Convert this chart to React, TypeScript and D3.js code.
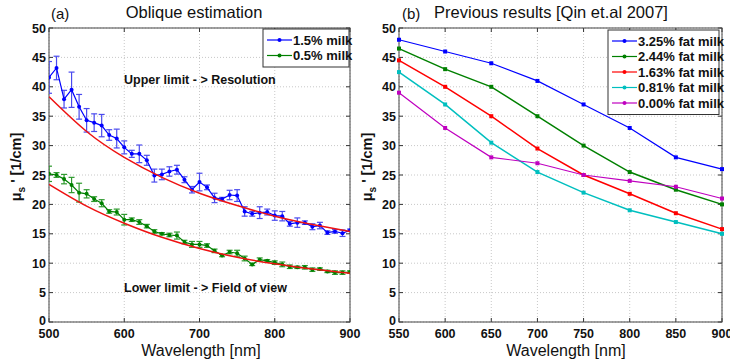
import React from "react";
import * as d3 from "d3";

// ---- Panel (a): oblique estimation, one point per 10 nm ----
const wlA: number[] = d3.range(500, 901, 10);
const milk15: number[] = [
  41.6, 43.2, 37.9, 39.5, 36.6, 34.3, 33.9, 33.4, 31.8, 31.2,
  29.7, 28.6, 28.6, 27.5, 24.9, 25.1, 25.6, 25.9, 24.2, 22.5,
  23.8, 22.9, 21.1, 20.9, 21.6, 21.5, 18.8, 18.4, 18.6, 18.7,
  18.1, 18.0, 16.7, 16.9, 16.9, 16.2, 16.4, 15.2, 15.4, 15.1, 15.6,
];
const milk15Err: number[] = [
  2.7, 2.0, 1.5, 3.0, 2.1, 2.0, 1.5, 1.9, 0.9, 1.6,
  1.1, 0.6, 1.5, 0.85, 1.1, 0.9, 0.8, 0.75, 0.5, 0.55,
  1.5, 0.4, 0.8, 0.3, 0.8, 1.0, 0.8, 0.4, 1.0, 0.5,
  0.8, 0.8, 0.4, 0.8, 0.3, 0.5, 0.55, 0.3, 0.3, 0.55, 0.2,
];
const milk05: number[] = [
  25.2, 25.0, 24.3, 23.3, 22.0, 21.8, 20.9, 20.2, 18.8, 18.7,
  17.4, 17.4, 17.0, 16.3, 15.4, 15.0, 14.8, 14.7, 13.6, 13.2,
  13.2, 13.0, 12.1, 11.3, 11.9, 11.7, 10.8, 9.8, 10.6, 10.4,
  10.1, 9.8, 9.4, 9.3, 9.3, 8.9, 9.0, 8.6, 8.4, 8.4, 8.5,
];
const milk05Err: number[] = [
  1.3, 0.4, 0.8, 1.3, 1.6, 0.7, 0.4, 0.6, 0.3, 0.5,
  0.9, 0.3, 0.4, 0.3, 0.3, 0.2, 0.3, 0.6, 0.3, 0.5,
  0.5, 0.3, 0.3, 0.2, 0.3, 0.5, 0.4, 0.2, 0.3, 0.2,
  0.3, 0.4, 0.3, 0.2, 0.3, 0.3, 0.2, 0.2, 0.3, 0.3, 0.2,
];
// Fitted limit curves, sampled every 50 nm
const wlFit: number[] = [500, 550, 600, 650, 700, 750, 800, 850, 900];
const fitUpper: number[] = [38.3, 32.4, 28.0, 24.6, 21.9, 19.8, 18.0, 16.6, 15.4];
const fitLower: number[] = [23.4, 19.7, 16.8, 14.4, 12.5, 11.0, 9.9, 9.0, 8.3];

// ---- Panel (b): previous results ----
const wlB: number[] = [550, 600, 650, 700, 750, 800, 850, 900];
const fat325: number[] = [48, 46, 44, 41, 37, 33, 28, 26];
const fat244: number[] = [46.5, 43, 40, 35, 30, 25.5, 22.5, 20];
const fat163: number[] = [44.5, 40, 35, 29.5, 25, 21.8, 18.5, 15.8];
const fat081: number[] = [42.5, 37, 30.5, 25.5, 22, 19, 17, 15];
const fat000: number[] = [39, 33, 28, 27, 25, 24, 23, 21];

const ticksY: number[] = d3.range(0, 51, 5);
const ticksXA: number[] = [500, 600, 700, 800, 900];
const ticksXB: number[] = [550, 600, 650, 700, 750, 800, 850, 900];

const FONT = "'Liberation Sans', Arial, Helvetica, sans-serif";

const top = 28;
const bottom = 322;

type Series = { name: string; color: string; values: number[]; width: number };

function Frame({
  x,
  y,
  xticks,
}: {
  x: d3.ScaleLinear<number, number>;
  y: d3.ScaleLinear<number, number>;
  xticks: number[];
}) {
  const [x0, x1] = x.range();
  return (
    <g>
      {xticks.map((t) => (
        <line key={"gx" + t} x1={x(t)} x2={x(t)} y1={top} y2={bottom} stroke="#c8c8c8" strokeWidth={1} strokeDasharray="1,2" />
      ))}
      {ticksY.map((t) => (
        <line key={"gy" + t} x1={x0} x2={x1} y1={y(t)} y2={y(t)} stroke="#c8c8c8" strokeWidth={1} strokeDasharray="1,2" />
      ))}
      {xticks.map((t) => (
        <g key={"tx" + t}>
          <line x1={x(t)} x2={x(t)} y1={bottom} y2={bottom - 4} stroke="#333" />
          <line x1={x(t)} x2={x(t)} y1={top} y2={top + 4} stroke="#333" />
          <text x={x(t)} y={337.5} textAnchor="middle" fontFamily={FONT} fontWeight="bold" fontSize={12.5} fill="#111">
            {t}
          </text>
        </g>
      ))}
      {ticksY.map((t) => (
        <g key={"ty" + t}>
          <line x1={x0} x2={x0 + 4} y1={y(t)} y2={y(t)} stroke="#333" />
          <line x1={x1} x2={x1 - 4} y1={y(t)} y2={y(t)} stroke="#333" />
          <text x={x0 - 3} y={y(t) + (t === 0 ? 3 : 4.5)} textAnchor="end" fontFamily={FONT} fontWeight="bold" fontSize={12.5} fill="#111">
            {t}
          </text>
        </g>
      ))}
      <rect x={x0} y={top} width={x1 - x0} height={bottom - top} fill="none" stroke="#444" strokeWidth={1} />
    </g>
  );
}

function YLabel({ cx, cy }: { cx: number; cy: number }) {
  return (
    <text
      transform={`translate(${cx},${cy}) rotate(-90)`}
      textAnchor="middle"
      fontFamily={FONT}
      fontWeight="bold"
      fontSize={14.5}
      fill="#111"
    >
      <tspan>μ</tspan>
      <tspan fontSize={10} dy={4}>s</tspan>
      <tspan dy={-4}> ' [1/cm]</tspan>
    </text>
  );
}

function Legend({
  x,
  y,
  w,
  items,
}: {
  x: number;
  y: number;
  w: number;
  items: { name: string; color: string }[];
}) {
  const rowH = 15.5;
  const h = items.length * rowH + 7;
  return (
    <g>
      <rect x={x} y={y} width={w} height={h} fill="#fff" stroke="#333" strokeWidth={1} />
      {items.map((it, i) => {
        const cy = y + 11 + i * rowH;
        return (
          <g key={it.name}>
            <line x1={x + 4} x2={x + 29} y1={cy} y2={cy} stroke={it.color} strokeWidth={1.2} />
            <circle cx={x + 16.5} cy={cy} r={2} fill={it.color} />
            <text x={x + 30} y={cy + 4.5} fontFamily={FONT} fontWeight="bold" fontSize={13} fill="#111">
              {it.name}
            </text>
          </g>
        );
      })}
    </g>
  );
}

function PanelA() {
  const x = d3.scaleLinear().domain([500, 900]).range([49, 350]);
  const y = d3.scaleLinear().domain([0, 50]).range([bottom, top]);
  const line = d3
    .line<number>()
    .x((_, i) => x(wlA[i]))
    .y((d) => y(d));
  const fit = d3
    .line<number>()
    .x((_, i) => x(wlFit[i]))
    .y((d) => y(d))
    .curve(d3.curveNatural);

  const series = [
    { name: "1.5% milk", color: "#0000ff", bar: "#4a4aee", values: milk15, err: milk15Err },
    { name: "0.5% milk", color: "#008000", bar: "#2e9a2e", values: milk05, err: milk05Err },
  ];

  return (
    <g>
      <Frame x={x} y={y} xticks={ticksXA} />
      <text x={51} y={19} fontFamily={FONT} fontSize={15} fill="#111">(a)</text>
      <text x={194} y={18} textAnchor="middle" fontFamily={FONT} fontSize={16.5} fill="#111">
        Oblique estimation
      </text>
      <text x={201} y={356} textAnchor="middle" fontFamily={FONT} fontSize={16} fill="#111">
        Wavelength [nm]
      </text>
      <YLabel cx={21} cy={167} />
      <text x={124} y={84} fontFamily={FONT} fontWeight="bold" fontSize={12.5} fill="#111">
        Upper limit - &gt; Resolution
      </text>
      <text x={124} y={292} fontFamily={FONT} fontWeight="bold" fontSize={12.5} fill="#111">
        Lower limit - &gt; Field of view
      </text>
      <defs>
        <clipPath id="clipA">
          <rect x={49} y={top} width={301} height={bottom - top} />
        </clipPath>
      </defs>
      <g clipPath="url(#clipA)">
        {series.map((s) => (
          <g key={s.name}>
            {s.values.map((v, i) => {
              const cx = x(wlA[i]);
              const e = s.err[i];
              return (
                <g key={i} stroke={s.bar} strokeWidth={1.2}>
                  <line x1={cx} x2={cx} y1={y(v - e)} y2={y(v + e)} />
                  <line x1={cx - 3} x2={cx + 3} y1={y(v - e)} y2={y(v - e)} />
                  <line x1={cx - 3} x2={cx + 3} y1={y(v + e)} y2={y(v + e)} />
                </g>
              );
            })}
            <path d={line(s.values) ?? ""} fill="none" stroke={s.color} strokeWidth={1.2} />
            {s.values.map((v, i) => (
              <circle key={"m" + i} cx={x(wlA[i])} cy={y(v)} r={2} fill={s.color} />
            ))}
          </g>
        ))}
        <path d={fit(fitUpper) ?? ""} fill="none" stroke="#ee1111" strokeWidth={1.5} />
        <path d={fit(fitLower) ?? ""} fill="none" stroke="#ee1111" strokeWidth={1.5} />
      </g>
      <Legend x={263} y={29} w={86} items={series.map((s) => ({ name: s.name, color: s.color }))} />
    </g>
  );
}

function PanelB() {
  const x = d3.scaleLinear().domain([550, 900]).range([399, 722]);
  const y = d3.scaleLinear().domain([0, 50]).range([bottom, top]);
  const line = d3
    .line<number>()
    .x((_, i) => x(wlB[i]))
    .y((d) => y(d));
  const series: Series[] = [
    { name: "3.25% fat milk", color: "#0000ff", values: fat325, width: 1.2 },
    { name: "2.44% fat milk", color: "#008000", values: fat244, width: 1.5 },
    { name: "1.63% fat milk", color: "#ff0000", values: fat163, width: 1.5 },
    { name: "0.81% fat milk", color: "#00bfbf", values: fat081, width: 1.5 },
    { name: "0.00% fat milk", color: "#bf00bf", values: fat000, width: 1.2 },
  ];
  return (
    <g>
      <Frame x={x} y={y} xticks={ticksXB} />
      <text x={402} y={19} fontFamily={FONT} fontSize={15} fill="#111">(b)</text>
      <text x={551} y={18} textAnchor="middle" fontFamily={FONT} fontSize={16.5} fill="#111">
        Previous results [Qin et.al 2007]
      </text>
      <text x={566} y={356} textAnchor="middle" fontFamily={FONT} fontSize={16} fill="#111">
        Wavelength [nm]
      </text>
      <YLabel cx={372} cy={167} />
      {series.map((s) => (
        <g key={s.name}>
          <path d={line(s.values) ?? ""} fill="none" stroke={s.color} strokeWidth={s.width} />
          {s.values.map((v, i) => (
            <rect key={i} x={x(wlB[i]) - 2} y={y(v) - 2} width={4} height={4} fill={s.color} />
          ))}
        </g>
      ))}
      <Legend x={608} y={30} w={111} items={series.map((s) => ({ name: s.name, color: s.color }))} />
    </g>
  );
}

export default function App() {
  return (
    <svg
      width={730}
      height={359}
      viewBox="0 0 730 359"
      style={{ position: "absolute", left: 0, top: 0, background: "#fff" }}
    >
      <rect width={730} height={359} fill="#fff" />
      <PanelA />
      <PanelB />
    </svg>
  );
}
